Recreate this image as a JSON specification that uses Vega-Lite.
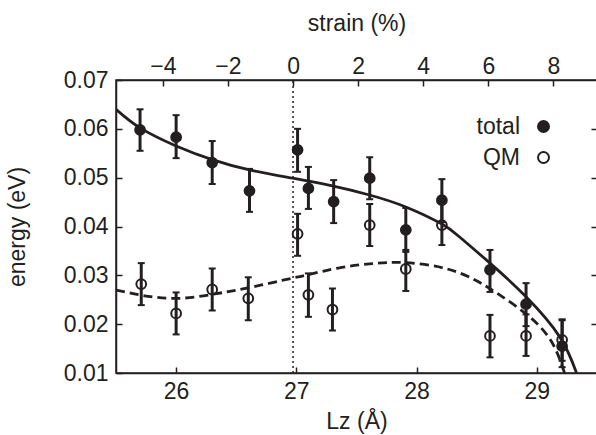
{
  "$schema": "https://vega.github.io/schema/vega-lite/v6.json",
  "width": 481,
  "height": 293,
  "autosize": {"type": "none"},
  "padding": {"left": 116, "top": 80, "right": 0, "bottom": 62},
  "config": {
    "font": "Liberation Sans",
    "view": {"stroke": "#231f20", "strokeWidth": 1.5},
    "axis": {
      "domainColor": "#231f20", "domainWidth": 1.5,
      "tickColor": "#231f20", "tickWidth": 1.5, "tickSize": -6,
      "labelFontSize": 23, "labelColor": "#231f20", "labelFont": "Liberation Sans",
      "titleFontSize": 23, "titleFontWeight": "normal", "titleColor": "#231f20", "titleFont": "Liberation Sans",
      "grid": false
    }
  },
  "datasets": {
    "pts": [
      {"series": "total", "Lz": 25.70, "energy": 0.0598, "lo": 0.0555, "hi": 0.0640},
      {"series": "total", "Lz": 26.00, "energy": 0.0583, "lo": 0.0540, "hi": 0.0628},
      {"series": "total", "Lz": 26.30, "energy": 0.0531, "lo": 0.0487, "hi": 0.0575},
      {"series": "total", "Lz": 26.61, "energy": 0.0473, "lo": 0.0430, "hi": 0.0518},
      {"series": "total", "Lz": 27.01, "energy": 0.0557, "lo": 0.0512, "hi": 0.0600},
      {"series": "total", "Lz": 27.10, "energy": 0.0478, "lo": 0.0436, "hi": 0.0522},
      {"series": "total", "Lz": 27.31, "energy": 0.0451, "lo": 0.0407, "hi": 0.0495},
      {"series": "total", "Lz": 27.61, "energy": 0.0499, "lo": 0.0456, "hi": 0.0542},
      {"series": "total", "Lz": 27.91, "energy": 0.0393, "lo": 0.0348, "hi": 0.0438},
      {"series": "total", "Lz": 28.21, "energy": 0.0454, "lo": 0.0409, "hi": 0.0497},
      {"series": "total", "Lz": 28.61, "energy": 0.0311, "lo": 0.0266, "hi": 0.0352},
      {"series": "total", "Lz": 28.91, "energy": 0.0241, "lo": 0.0196, "hi": 0.0284},
      {"series": "total", "Lz": 29.21, "energy": 0.0155, "lo": 0.0112, "hi": 0.0208},
      {"series": "QM", "Lz": 25.71, "energy": 0.0282, "lo": 0.0239, "hi": 0.0325},
      {"series": "QM", "Lz": 26.00, "energy": 0.0222, "lo": 0.0179, "hi": 0.0265},
      {"series": "QM", "Lz": 26.30, "energy": 0.0271, "lo": 0.0228, "hi": 0.0314},
      {"series": "QM", "Lz": 26.60, "energy": 0.0253, "lo": 0.0208, "hi": 0.0296},
      {"series": "QM", "Lz": 27.01, "energy": 0.0385, "lo": 0.0340, "hi": 0.0426},
      {"series": "QM", "Lz": 27.10, "energy": 0.0260, "lo": 0.0215, "hi": 0.0304},
      {"series": "QM", "Lz": 27.30, "energy": 0.0230, "lo": 0.0187, "hi": 0.0273},
      {"series": "QM", "Lz": 27.61, "energy": 0.0403, "lo": 0.0360, "hi": 0.0446},
      {"series": "QM", "Lz": 27.91, "energy": 0.0313, "lo": 0.0268, "hi": 0.0352},
      {"series": "QM", "Lz": 28.21, "energy": 0.0403, "lo": 0.0362, "hi": 0.0446},
      {"series": "QM", "Lz": 28.61, "energy": 0.0176, "lo": 0.0132, "hi": 0.0219},
      {"series": "QM", "Lz": 28.91, "energy": 0.0176, "lo": 0.0135, "hi": 0.0220},
      {"series": "QM", "Lz": 29.21, "energy": 0.0168, "lo": 0.0125, "hi": 0.0210}
    ],
    "fitTotal": [
      {"Lz": 25.50, "energy": 0.0640},
      {"Lz": 25.70, "energy": 0.0602},
      {"Lz": 26.00, "energy": 0.0565},
      {"Lz": 26.30, "energy": 0.0537},
      {"Lz": 26.61, "energy": 0.0516},
      {"Lz": 26.97, "energy": 0.0499},
      {"Lz": 27.28, "energy": 0.0484},
      {"Lz": 27.60, "energy": 0.0465},
      {"Lz": 27.91, "energy": 0.0440},
      {"Lz": 28.21, "energy": 0.0405},
      {"Lz": 28.36, "energy": 0.0378},
      {"Lz": 28.61, "energy": 0.0325},
      {"Lz": 28.91, "energy": 0.0256},
      {"Lz": 29.19, "energy": 0.0174},
      {"Lz": 29.33, "energy": 0.0100}
    ],
    "fitQM": [
      {"Lz": 25.50, "energy": 0.0270},
      {"Lz": 25.77, "energy": 0.0257},
      {"Lz": 26.04, "energy": 0.0253},
      {"Lz": 26.30, "energy": 0.0261},
      {"Lz": 26.51, "energy": 0.0270},
      {"Lz": 26.76, "energy": 0.0283},
      {"Lz": 26.98, "energy": 0.0295},
      {"Lz": 27.11, "energy": 0.0302},
      {"Lz": 27.35, "energy": 0.0315},
      {"Lz": 27.63, "energy": 0.0324},
      {"Lz": 27.91, "energy": 0.0326},
      {"Lz": 28.24, "energy": 0.0314},
      {"Lz": 28.49, "energy": 0.0290},
      {"Lz": 28.69, "energy": 0.0260},
      {"Lz": 28.93, "energy": 0.0217},
      {"Lz": 29.12, "energy": 0.0165},
      {"Lz": 29.23, "energy": 0.0100}
    ],
    "strainRef": [{"strain": 0}]
  },
  "layer": [
    {
      "encoding": {
        "x": {"field": "Lz", "type": "quantitative",
              "scale": {"domain": [25.5, 29.5], "nice": false, "zero": false},
              "axis": {"orient": "bottom", "values": [26, 27, 28, 29], "title": "Lz (Å)", "labelPadding": 13, "titlePadding": 7}},
        "y": {"field": "energy", "type": "quantitative",
              "scale": {"domain": [0.01, 0.07], "nice": false, "zero": false},
              "axis": {"orient": "left", "values": [0.01, 0.02, 0.03, 0.04, 0.05, 0.06, 0.07], "format": ".2f", "title": "energy (eV)", "labelPadding": 14, "titlePadding": 34}}
      },
      "layer": [
        {
          "data": {"name": "fitTotal"},
          "mark": {"type": "line", "color": "#231f20", "strokeWidth": 2.8, "interpolate": "natural", "clip": true}
        },
        {
          "data": {"name": "fitQM"},
          "mark": {"type": "line", "color": "#231f20", "strokeWidth": 2.8, "strokeDash": [9, 5], "interpolate": "natural", "clip": true}
        },
        {
          "data": {"name": "pts"},
          "mark": {"type": "rule", "color": "#231f20", "strokeWidth": 3, "opacity": 1, "clip": true},
          "encoding": {"y": {"field": "lo", "type": "quantitative"}, "y2": {"field": "hi"}}
        },
        {
          "data": {"name": "pts"},
          "mark": {"type": "tick", "orient": "horizontal", "color": "#231f20", "size": 7, "thickness": 2, "opacity": 1, "clip": true},
          "encoding": {"y": {"field": "lo", "type": "quantitative"}}
        },
        {
          "data": {"name": "pts"},
          "mark": {"type": "tick", "orient": "horizontal", "color": "#231f20", "size": 7, "thickness": 2, "opacity": 1, "clip": true},
          "encoding": {"y": {"field": "hi", "type": "quantitative"}}
        },
        {
          "data": {"name": "pts"},
          "mark": {"type": "point", "shape": "circle", "filled": true, "size": 95, "stroke": "#231f20", "strokeWidth": 2, "opacity": 1, "clip": true},
          "encoding": {
            "fill": {"field": "series", "type": "nominal",
                     "scale": {"domain": ["total", "QM"], "range": ["#231f20", "rgba(255,255,255,0)"]},
                     "legend": {"orient": "none", "legendX": 416, "legendY": 35, "title": null,
                                "labelFontSize": 23, "labelColor": "#231f20", "labelAlign": "right", "labelOffset": -35,
                                "symbolSize": 120, "symbolStrokeColor": "#231f20", "symbolStrokeWidth": 2, "rowPadding": 7}}
          }
        }
      ]
    },
    {
      "data": {"name": "strainRef"},
      "mark": {"type": "rule", "color": "#231f20", "strokeWidth": 1.5, "strokeDash": [2, 3]},
      "encoding": {
        "x": {"field": "strain", "type": "quantitative",
              "scale": {"domain": [-5.44, 9.34], "nice": false, "zero": false},
              "axis": {"orient": "top", "values": [-4, -2, 0, 2, 4, 6, 8], "title": "strain (%)", "labelPadding": 8, "titlePadding": 20}},
        "y": {"datum": 0.01, "type": "quantitative",
              "scale": {"domain": [0.01, 0.07], "nice": false, "zero": false},
              "axis": {"orient": "right", "values": [0.02, 0.03, 0.04, 0.05, 0.06], "labels": false, "title": null}},
        "y2": {"datum": 0.07}
      }
    }
  ],
  "resolve": {
    "scale": {"x": "independent", "y": "independent"},
    "axis": {"x": "independent", "y": "independent"}
  }
}
